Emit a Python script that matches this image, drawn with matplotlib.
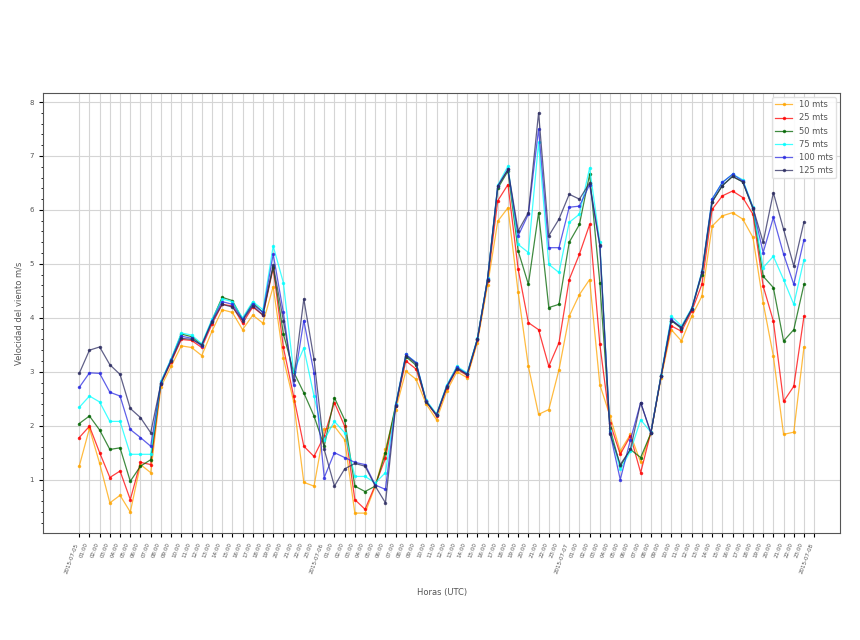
import matplotlib
matplotlib.use("Agg")
import matplotlib.pyplot as plt
from matplotlib.ticker import MultipleLocator

# wind speed (m/s) per hour, 2015-07-05 00:00 .. 2015-07-07 23:00
dias = ["2015-07-05", "2015-07-06", "2015-07-07", "2015-07-08"]

v10 = [1.25, 1.95, 1.30, 0.57, 0.71, 0.40, 1.28, 1.13, 2.72, 3.10, 3.48, 3.45,
       3.30, 3.75, 4.15, 4.10, 3.78, 4.05, 3.90, 4.58, 3.25, 2.45, 0.95, 0.88,
       1.93, 1.99, 1.74, 0.38, 0.38, 0.88, 1.56, 2.30, 3.01, 2.86, 2.40, 2.11,
       2.64, 3.00, 2.89, 3.54, 4.60, 5.79, 6.04, 4.47, 3.10, 2.21, 2.30, 3.04,
       4.03, 4.43, 4.71, 2.76, 2.18, 1.53, 1.84, 1.32, 1.87, 2.88, 3.78, 3.57,
       4.03, 4.40, 5.70, 5.89, 5.95, 5.83, 5.49, 4.28, 3.29, 1.84, 1.88, 3.46]
v25 = [1.78, 1.99, 1.50, 1.04, 1.16, 0.63, 1.32, 1.28, 2.78, 3.18, 3.60, 3.58,
       3.45, 3.88, 4.25, 4.22, 3.90, 4.20, 4.05, 4.92, 3.45, 2.55, 1.62, 1.43,
       1.81, 2.43, 1.99, 0.63, 0.45, 0.90, 1.40, 2.36, 3.20, 3.05, 2.45, 2.18,
       2.70, 3.05, 2.93, 3.58, 4.68, 6.17, 6.47, 4.90, 3.91, 3.78, 3.10, 3.54,
       4.71, 5.18, 5.73, 3.51, 2.05, 1.47, 1.81, 1.13, 1.88, 2.92, 3.85, 3.75,
       4.12, 4.62, 6.01, 6.26, 6.35, 6.23, 5.92, 4.59, 3.94, 2.45, 2.73, 4.03]
v50 = [2.04, 2.18, 1.92, 1.56, 1.59, 0.97, 1.25, 1.37, 2.80, 3.22, 3.70, 3.65,
       3.50, 3.95, 4.38, 4.32, 3.97, 4.28, 4.10, 4.95, 3.70, 3.00, 2.61, 2.18,
       1.62, 2.52, 2.11, 0.88, 0.78, 0.88, 1.50, 2.38, 3.28, 3.12, 2.45, 2.20,
       2.73, 3.08, 2.95, 3.60, 4.71, 6.40, 6.72, 5.24, 4.62, 5.95, 4.19, 4.25,
       5.40, 5.73, 6.66, 4.65, 1.95, 1.25, 1.56, 1.41, 1.86, 2.92, 3.95, 3.80,
       4.16, 4.80, 6.15, 6.45, 6.62, 6.52, 6.02, 4.77, 4.56, 3.57, 3.78, 4.62]
v75 = [2.34, 2.55, 2.44, 2.08, 2.08, 1.47, 1.47, 1.47, 2.82, 3.24, 3.72, 3.68,
       3.52, 3.97, 4.35, 4.30, 4.00, 4.30, 4.15, 5.33, 4.65, 3.00, 3.44, 2.55,
       1.74, 2.08, 1.87, 1.06, 1.06, 0.94, 1.13, 2.40, 3.32, 3.17, 2.47, 2.22,
       2.75, 3.10, 2.98, 3.62, 4.73, 6.46, 6.81, 5.36, 5.21, 7.25, 4.99, 4.84,
       5.77, 5.92, 6.78, 5.40, 1.90, 1.19, 1.53, 2.11, 1.88, 2.94, 4.03, 3.85,
       4.18, 4.86, 6.20, 6.51, 6.66, 6.56, 6.06, 4.93, 5.14, 4.71, 4.25, 5.08]
v100 = [2.71, 2.98, 2.97, 2.62, 2.55, 1.93, 1.78, 1.62, 2.80, 3.22, 3.66, 3.62,
        3.48, 3.94, 4.30, 4.25, 3.97, 4.25, 4.10, 5.18, 4.10, 2.75, 3.95, 2.98,
        1.04, 1.50, 1.41, 1.32, 1.28, 0.90, 0.82, 2.38, 3.32, 3.17, 2.45, 2.20,
        2.73, 3.08, 2.96, 3.60, 4.72, 6.44, 6.75, 5.52, 5.92, 7.50, 5.30, 5.30,
        6.05, 6.07, 6.47, 5.33, 1.87, 1.00, 1.74, 2.43, 1.87, 2.92, 3.97, 3.82,
        4.16, 4.84, 6.20, 6.51, 6.66, 6.54, 6.04, 5.21, 5.86, 5.18, 4.62, 5.45]
v125 = [2.97, 3.40, 3.46, 3.13, 2.95, 2.32, 2.15, 1.87, 2.78, 3.20, 3.62, 3.60,
        3.50, 3.92, 4.25, 4.20, 3.95, 4.22, 4.05, 4.98, 3.95, 2.85, 4.35, 3.23,
        1.56, 0.88, 1.20, 1.30, 1.25, 0.88, 0.57, 2.36, 3.30, 3.15, 2.44, 2.20,
        2.72, 3.06, 2.95, 3.60, 4.71, 6.44, 6.75, 5.61, 5.95, 7.80, 5.52, 5.83,
        6.29, 6.20, 6.50, 5.35, 1.85, 1.28, 1.56, 2.43, 1.86, 2.92, 3.95, 3.82,
        4.16, 4.84, 6.15, 6.45, 6.62, 6.52, 6.04, 5.40, 6.32, 5.64, 4.96, 5.78]

series = [v10, v25, v50, v75, v100, v125]
nombres = ["10 mts", "25 mts", "50 mts", "75 mts", "100 mts", "125 mts"]
colores = ["orange", "red", "darkgreen", "cyan", "#2a2ae0", "#2b2b60"]

# tick labels: date at midnight, HH:00 for the rest
etiquetas = []
for d in dias[:-1]:
    etiquetas.append(d)
    for h in range(1, 24):
        etiquetas.append("%02d:00" % h)
etiquetas.append(dias[-1])

horas = list(range(len(v10)))

fig = plt.figure(figsize=(8.6, 6.4), dpi=100)
ax = fig.add_axes([0.050, 0.167, 0.927, 0.688])

for v, n, c in zip(series, nombres, colores):
    ax.plot(horas, v, marker='.', markersize=3, linewidth=0.9,
            color=c, alpha=0.75, label=n)

ax.set_xticks(range(len(etiquetas)))
ax.set_xticklabels(etiquetas, rotation=70, ha='right', fontsize=4,
                   color='#555555')
ax.yaxis.set_minor_locator(MultipleLocator(0.2))
ax.tick_params(axis='y', labelsize=5, labelcolor='#555555', length=3)
ax.tick_params(axis='y', which='minor', length=1.5)
ax.tick_params(axis='x', length=3)
ax.grid(True, color='#d5d5d5', linewidth=0.8)

for s in ax.spines.values():
    s.set_color('#555555')
    s.set_linewidth(0.8)

ax.set_xlabel("Horas (UTC)", fontsize=6, color='#555555', labelpad=10)
ax.set_ylabel("Velocidad del viento m/s", fontsize=6, color='#555555')
ax.legend(loc='upper right', fontsize=6, framealpha=0.9, edgecolor='#dddddd',
          labelcolor='#555555')

fig.savefig("out.png", dpi=100)
